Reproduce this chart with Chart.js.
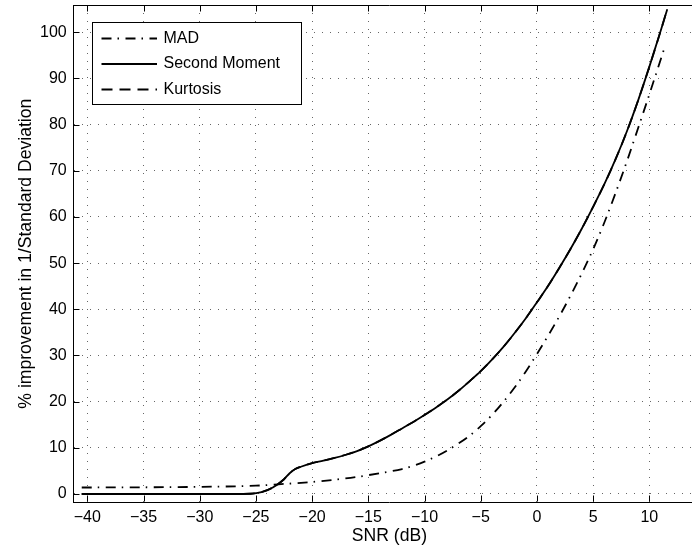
<!DOCTYPE html>
<html>
<head>
<meta charset="utf-8">
<script src="https://cdn.jsdelivr.net/npm/chart.js@4/dist/chart.umd.min.js"></script>
<style>
html,body{margin:0;padding:0;background:#fff;overflow:hidden;}
#wrap{width:692px;height:550px;overflow:hidden;position:relative;}
canvas{display:block;}
</style>
</head>
<body>
<div id="wrap"><canvas id="c" width="708" height="550"></canvas></div>
<script>
// ---- data ----
const xTicks = [-40, -35, -30, -25, -20, -15, -10, -5, 0, 5, 10];
const yTicks = [0, 10, 20, 30, 40, 50, 60, 70, 80, 90, 100];
const seriesNames = ['MAD', 'Second Moment', 'Kurtosis'];

const madSnr = [-40.5, -35, -30, -25, -23, -20, -18, -16, -14, -12, -11, -10, -9, -8, -7, -6, -5, -4, -3, -2, -1, 0, 1, 2, 3, 4, 5, 6, 7, 8, 9, 10, 11, 11.4];
const madVal = [1.4, 1.45, 1.55, 1.8, 2.1, 2.6, 3.1, 3.7, 4.5, 5.4, 6.1, 7.0, 8.1, 9.4, 10.9, 12.6, 14.7, 17.1, 19.9, 23.0, 26.5, 30.3, 34.3, 38.5, 43.0, 47.8, 53.0, 58.8, 65.2, 72.0, 79.2, 86.5, 94.0, 97.0];

const smSnr = [-40.5, -35, -30, -27, -25.5, -24.5, -23.5, -22.5, -22, -21.5, -21, -20, -19, -18, -17, -16, -15, -14, -13, -12, -11, -10, -9, -8, -7, -6, -5, -4, -3, -2, -1, 0, 1, 2, 3, 4, 5, 6, 7, 8, 9, 10, 11, 11.6];
const smVal = [0, 0, 0, 0, 0.05, 0.4, 1.4, 3.2, 4.5, 5.4, 5.9, 6.7, 7.2, 7.8, 8.5, 9.3, 10.3, 11.5, 12.8, 14.2, 15.6, 17.1, 18.7, 20.4, 22.3, 24.4, 26.6, 29.1, 31.8, 34.8, 38.0, 41.5, 45.1, 49.0, 53.1, 57.5, 62.2, 67.1, 72.5, 78.5, 85.2, 92.5, 100.2, 105.0];

const kurtSnr = smSnr.slice();
const kurtVal = smVal.slice();

// ---- helpers ----
const FONT = "'Liberation Sans', Arial, Helvetica, sans-serif";
const toXY = (xs, ys) => xs.map((v, i) => ({x: v, y: ys[i]}));
const fmt = v => (v < 0 ? '\u2212' + Math.abs(v) : String(v));

const framePlugin = {
  id: 'frame',
  afterDraw(chart) {
    const {ctx, chartArea: a, scales: {x, y}} = chart;
    ctx.save();
    ctx.strokeStyle = '#000';
    ctx.lineWidth = 1;
    ctx.setLineDash([]);
    ctx.beginPath();
    const top = Math.round(a.top) + 0.5;
    const bot = Math.round(a.bottom) - 0.5;
    const lft = Math.round(a.left) + 0.5;
    const rgt = Math.round(a.right) - 0.5;
    ctx.moveTo(a.left, top); ctx.lineTo(a.right, top);
    const tl = 6;
    xTicks.forEach(v => {
      const px = Math.round(x.getPixelForValue(v)) + 0.5;
      ctx.moveTo(px, bot); ctx.lineTo(px, bot - tl);
      ctx.moveTo(px, top); ctx.lineTo(px, top + tl);
    });
    yTicks.forEach(v => {
      const py = Math.round(y.getPixelForValue(v)) + 0.5;
      ctx.moveTo(lft, py); ctx.lineTo(lft + tl, py);
      ctx.moveTo(rgt, py); ctx.lineTo(rgt - tl, py);
    });
    ctx.stroke();

    // legend box
    const box = {x: 92.5, y: 22.5, w: 209, h: 82};
    ctx.fillStyle = '#fff';
    ctx.fillRect(box.x, box.y, box.w, box.h);
    ctx.strokeRect(box.x, box.y, box.w, box.h);
    ctx.font = '16px ' + FONT;
    ctx.textBaseline = 'middle';
    ctx.textAlign = 'left';
    chart.data.datasets.forEach((ds, i) => {
      const ry = 38.5 + i * 25.5;
      ctx.save();
      ctx.lineWidth = ds.borderWidth;
      ctx.strokeStyle = ds.borderColor;
      ctx.setLineDash(ds.borderDash || []);
      ctx.beginPath();
      ctx.moveTo(101.5, ry); ctx.lineTo(157, ry);
      ctx.stroke();
      ctx.restore();
      ctx.fillStyle = '#000';
      ctx.fillText(ds.label, 163.5, ry);
    });
    ctx.restore();
  }
};

new Chart(document.getElementById('c'), {
  type: 'line',
  data: {
    datasets: [
      {label: seriesNames[0], data: toXY(madSnr, madVal), borderColor: '#000', borderWidth: 1.8, borderDash: [10, 6, 1.5, 6.5], pointRadius: 0, fill: false, cubicInterpolationMode: 'monotone'},
      {label: seriesNames[1], data: toXY(smSnr, smVal), borderColor: '#000', borderWidth: 1.8, borderDash: [], pointRadius: 0, fill: false, cubicInterpolationMode: 'monotone'},
      {label: seriesNames[2], data: toXY(kurtSnr, kurtVal), borderColor: '#000', borderWidth: 1.8, borderDash: [11, 7], pointRadius: 0, fill: false, cubicInterpolationMode: 'monotone'}
    ]
  },
  options: {
    responsive: false,
    animation: false,
    devicePixelRatio: 1,
    layout: {padding: {left: 0, top: 5, right: 2.5, bottom: 0}},
    plugins: {legend: {display: false}, tooltip: {enabled: false}},
    scales: {
      x: {
        type: 'linear', min: -41.25, max: 15,
        afterFit(s) { s.height = 47.7; s.paddingLeft = 0; s.paddingRight = 0; },
        afterBuildTicks(s) { s.ticks = xTicks.map(v => ({value: v})); },
        grid: {color: 'rgba(0,0,0,0.6)', lineWidth: 1, drawTicks: false},
        border: {display: true, color: '#000', width: 1, dash: [1, 7]},
        ticks: {font: {family: FONT, size: 16}, color: '#000', padding: 6, maxRotation: 0, autoSkip: false, callback: v => fmt(v)},
        title: {display: true, text: 'SNR (dB)', font: {family: FONT, size: 17.6}, color: '#000', padding: {top: 0, bottom: 3.6}}
      },
      y: {
        type: 'linear', min: -1.8, max: 105.9,
        afterFit(s) { s.width = 73.3; s.paddingTop = 0; s.paddingBottom = 0; },
        afterBuildTicks(s) { s.ticks = yTicks.map(v => ({value: v})); },
        grid: {color: 'rgba(0,0,0,0.6)', lineWidth: 1, drawTicks: false},
        border: {display: true, color: '#000', width: 1, dash: [1, 7]},
        ticks: {font: {family: FONT, size: 16}, color: '#000', padding: 6.6, autoSkip: false, callback: v => fmt(v)},
        title: {display: true, text: '% improvement in 1/Standard Deviation', font: {family: FONT, size: 17.6}, color: '#000', padding: {top: 15.4, bottom: 0}}
      }
    }
  },
  plugins: [framePlugin]
});
</script>
</body>
</html>
